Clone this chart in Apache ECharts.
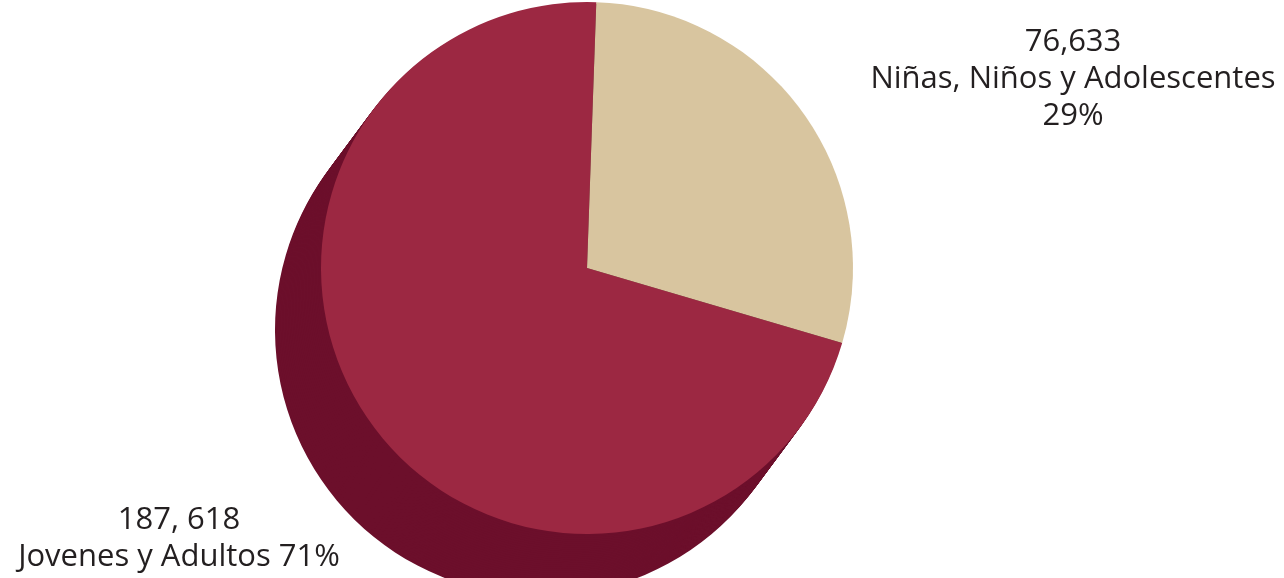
<!DOCTYPE html>
<html>
<head>
<meta charset="utf-8">
<script src="https://cdn.jsdelivr.net/npm/echarts@6/dist/echarts.min.js"></script>
<style>
html,body{margin:0;padding:0;background:#fff;}
#chart{width:1284px;height:578px;}
</style>
</head>
<body>
<div id="chart"></div>
<script>
// ---- data ----
const categories = ['Niñas, Niños y Adolescentes', 'Jovenes y Adultos'];
const values = [76633, 187618];
const valueLabels = ['76,633', '187, 618'];
const percentLabels = ['29%', '71%'];

// ---- style ----
const faceColors = ['#D8C59F', '#9C2842'];
const sideColors = ['#7D7358', '#6C0F2B'];
const faceCenter = [587, 268];
const depth = [-46, 62];
const radius = 266;
const startAngle = 88;
const steps = 32;

const chart = echarts.init(document.getElementById('chart'), null, {renderer: 'canvas'});

const series = [];
for (let i = steps; i >= 1; i--) {
  const t = i / steps;
  series.push({
    type: 'pie',
    silent: true,
    animation: false,
    center: [faceCenter[0] + depth[0] * t, faceCenter[1] + depth[1] * t],
    radius: radius,
    startAngle: startAngle,
    clockwise: true,
    label: {show: false},
    labelLine: {show: false},
    data: categories.map((c, k) => ({
      name: c, value: values[k],
      itemStyle: {color: sideColors[k]}
    }))
  });
}

const labelPos = [
  {x: 1073, y: 79, text: (k) => valueLabels[k] + '\n' + categories[k] + '\n' + percentLabels[k]},
  {x: 179, y: 539, text: (k) => valueLabels[k] + '\n' + categories[k] + ' ' + percentLabels[k]}
];

series.push({
  type: 'pie',
  animation: false,
  center: faceCenter,
  radius: radius,
  startAngle: startAngle,
  clockwise: true,
  label: {
    show: true,
    position: 'outside',
    overflow: 'none',
    fontFamily: 'Open Sans',
    fontSize: 31,
    lineHeight: 37,
    color: '#231F20',
    align: 'center'
  },
  labelLine: {show: false},
  labelLayout: function (p) {
    const lp = labelPos[p.dataIndex];
    return {x: lp.x, y: lp.y, align: 'center', verticalAlign: 'middle'};
  },
  data: categories.map((c, k) => ({
    name: c, value: values[k],
    itemStyle: {color: faceColors[k]},
    label: {formatter: labelPos[k].text(k)}
  }))
});

chart.setOption({
  backgroundColor: '#ffffff',
  animation: false,
  series: series
});
</script>
</body>
</html>
